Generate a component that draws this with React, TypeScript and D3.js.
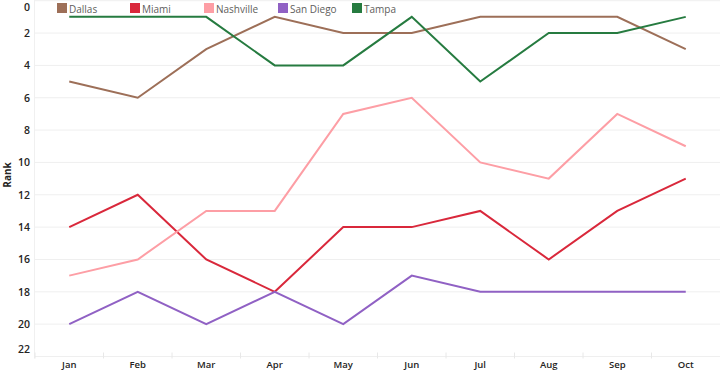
import React from "react";
import * as d3 from "d3";

const months = ["Jan", "Feb", "Mar", "Apr", "May", "Jun", "Jul", "Aug", "Sep", "Oct"];
const cities = ["Dallas", "Miami", "Nashville", "San Diego", "Tampa"];
const colors = ["#9d6f58", "#d9283b", "#fd9ea5", "#9061c4", "#267b40"];

const dallas = [5, 6, 3, 1, 2, 2, 1, 1, 1, 3];
const miami = [14, 12, 16, 18, 14, 14, 13, 16, 13, 11];
const nashville = [17, 16, 13, 13, 7, 6, 10, 11, 7, 9];
const sanDiego = [20, 18, 20, 18, 20, 17, 18, 18, 18, 18];
const tampa = [1, 1, 1, 4, 4, 1, 5, 2, 2, 1];

const rankTicks = [0, 2, 4, 6, 8, 10, 12, 14, 16, 18, 20, 22];

const W = 720;
const H = 371;
const FONT = "'Open Sans', 'DejaVu Sans', sans-serif";

export default function App() {
  const series = [dallas, miami, nashville, sanDiego, tampa];

  const x = d3.scaleBand().domain(months).range([35, 720]);
  const y = d3.scaleLinear().domain([0, 22]).range([0.7, 356.5]);

  const line = d3
    .line<number>()
    .x((d, i) => (x(months[i]) as number) + x.bandwidth() / 2)
    .y((d) => y(d));

  // legend positions
  const legendX = [57, 130, 204, 278, 352];

  return (
    <svg
      width={W}
      height={H}
      style={{ position: "absolute", left: 0, top: 0, background: "#fff" }}
      fontFamily={FONT}
    >
      {/* horizontal grid */}
      <g>
        {rankTicks.map((t) => (
          <line key={t} x1={35} x2={W} y1={y(t)} y2={y(t)} stroke="#efefef" strokeWidth={1} />
        ))}
        <line x1={34.5} x2={34.5} y1={0} y2={y(22) + 2} stroke="#f0f0f0" />
      </g>
      {/* band ticks along the bottom */}
      <g>
        {months.map((m) => (
          <line
            key={m}
            x1={x(m) as number}
            x2={x(m) as number}
            y1={y(22) - 4}
            y2={y(22) + 2}
            stroke="#e8e8e8"
          />
        ))}
      </g>
      {/* y axis labels */}
      <g fontSize={10.5} fontWeight={600} fill="#252423" textAnchor="end">
        {rankTicks.map((t, i) => {
          let py = y(t) + 4;
          if (i === 0) py = 11;
          if (i === rankTicks.length - 1) py = 353;
          return (
            <text key={t} x={30} y={py}>
              {t}
            </text>
          );
        })}
      </g>
      <text
        transform="translate(11,175) rotate(-90)"
        textAnchor="middle"
        fontSize={10}
        fontWeight="bold"
        fill="#252423"
      >
        Rank
      </text>
      {/* x axis labels */}
      <g fontSize={9.5} fontWeight={600} fill="#252423" textAnchor="middle">
        {months.map((m) => (
          <text key={m} x={(x(m) as number) + x.bandwidth() / 2} y={368}>
            {m}
          </text>
        ))}
      </g>
      {/* lines */}
      <g fill="none" strokeWidth={2} strokeLinejoin="miter">
        {series.map((s, i) => (
          <path key={cities[i]} d={line(s) as string} stroke={colors[i]} />
        ))}
      </g>
      {/* legend */}
      <g fontSize={10} fill="#605e5c">
        {cities.map((c, i) => (
          <g key={c} transform={`translate(${legendX[i]},3)`}>
            <rect x={0} y={0} width={10} height={10} fill={colors[i]} />
            <text x={12} y={9.5}>
              {c}
            </text>
          </g>
        ))}
      </g>
    </svg>
  );
}
